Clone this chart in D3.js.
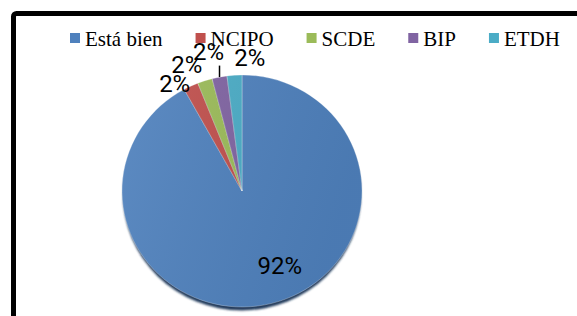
<!DOCTYPE html>
<html>
<head>
<meta charset="utf-8">
<script src="https://cdn.jsdelivr.net/npm/d3@7"></script>
<style>
  html, body { margin: 0; padding: 0; background: #fff; }
  svg { display: block; }
</style>
</head>
<body>
<svg width="577" height="316"></svg>
<script>
const categories = ["Está bien", "NCIPO", "SCDE", "BIP", "ETDH"];
const percents = [92, 2, 2, 2, 2];
const colors = ["#4f81bd", "#c0504d", "#9bbb59", "#8064a2", "#4bacc6"];

// nudges for the data labels, like Excel's best fit
const labelNudge = [[20, 7], [-12, 6], [-15, -7], [-9, -16], [16, -8]];

const svg = d3.select("svg");

// frame (runs off the right and bottom edge)
svg.append("rect")
  .attr("x", 13.5).attr("y", 13.5)
  .attr("width", 620).attr("height", 340)
  .attr("rx", 3)
  .attr("fill", "none")
  .attr("stroke", "#000")
  .attr("stroke-width", 5);

const cx = 242, cy = 191;
const radius = 120;
const squash = 116 / 120;

const defs = svg.append("defs");
const shade = defs.append("linearGradient")
  .attr("id", "shade")
  .attr("x1", "0").attr("y1", "0").attr("x2", "1").attr("y2", "0.3");
shade.append("stop").attr("offset", "0").attr("stop-color", "#fff").attr("stop-opacity", 0.08);
shade.append("stop").attr("offset", "1").attr("stop-color", "#000").attr("stop-opacity", 0.06);

defs.append("filter").attr("id", "blur")
  .append("feGaussianBlur").attr("stdDeviation", 1.2);

const total = d3.sum(percents);
const data = categories.map((c, i) => ({ name: c, value: percents[i], color: colors[i] }));

const pie = d3.pie().sort(null).value((d) => d.value);
const arcs = pie(data);
const arc = d3.arc().innerRadius(0).outerRadius(radius);

const g = svg.append("g")
  .attr("transform", `translate(${cx},${cy}) scale(1,${squash})`);

// shadow rim under the pie
g.append("ellipse")
  .attr("cx", 0).attr("cy", 3.5)
  .attr("rx", radius - 1).attr("ry", radius)
  .attr("fill", "#203a5c")
  .attr("filter", "url(#blur)");

g.selectAll("path.slice")
  .data(arcs)
  .enter()
  .append("path")
  .attr("class", "slice")
  .attr("d", arc)
  .attr("fill", (d) => d.data.color)
  .attr("stroke", "#fff")
  .attr("stroke-width", 0.5)
  .attr("stroke-opacity", 0.6);

g.append("circle")
  .attr("r", radius)
  .attr("fill", "url(#shade)");

// data labels
const polar = (a, r) => [cx + Math.sin(a) * r, cy - Math.cos(a) * r * squash];

arcs.forEach((d, i) => {
  const mid = (d.startAngle + d.endAngle) / 2;
  const base = i === 0 ? polar(mid, radius * 0.6) : polar(mid, radius * 1.083);
  const x = base[0] + labelNudge[i][0];
  const y = base[1] + labelNudge[i][1];
  svg.append("text")
    .attr("x", x).attr("y", y)
    .attr("dy", "0.36em")
    .attr("text-anchor", "middle")
    .style("font-family", "Roboto, 'Open Sans', sans-serif")
    .style("font-size", "24px")
    .attr("fill", "#000")
    .text(Math.round((d.value / total) * 100) + "%");

  // leader line for the label that got pushed away
  if (i === 3) {
    const edge = polar(mid, radius);
    svg.append("line")
      .attr("x1", edge[0]).attr("y1", edge[1])
      .attr("x2", edge[0]).attr("y2", y + 14)
      .attr("stroke", "#000")
      .attr("stroke-width", 1.5);
  }
});

// legend
const legend = svg.append("g").attr("transform", "translate(70,0)");
let lx = 0;
data.forEach((d) => {
  const item = legend.append("g").attr("transform", `translate(${lx},0)`);
  item.append("rect")
    .attr("x", 0).attr("y", 33)
    .attr("width", 10).attr("height", 10)
    .attr("fill", d.color);
  const t = item.append("text")
    .attr("x", 15).attr("y", 46)
    .style("font-family", "'Liberation Serif', 'Times New Roman', serif")
    .style("font-size", "21px")
    .attr("fill", "#000")
    .text(d.name);
  lx += 15 + t.node().getComputedTextLength() + 33;
});
</script>
</body>
</html>
